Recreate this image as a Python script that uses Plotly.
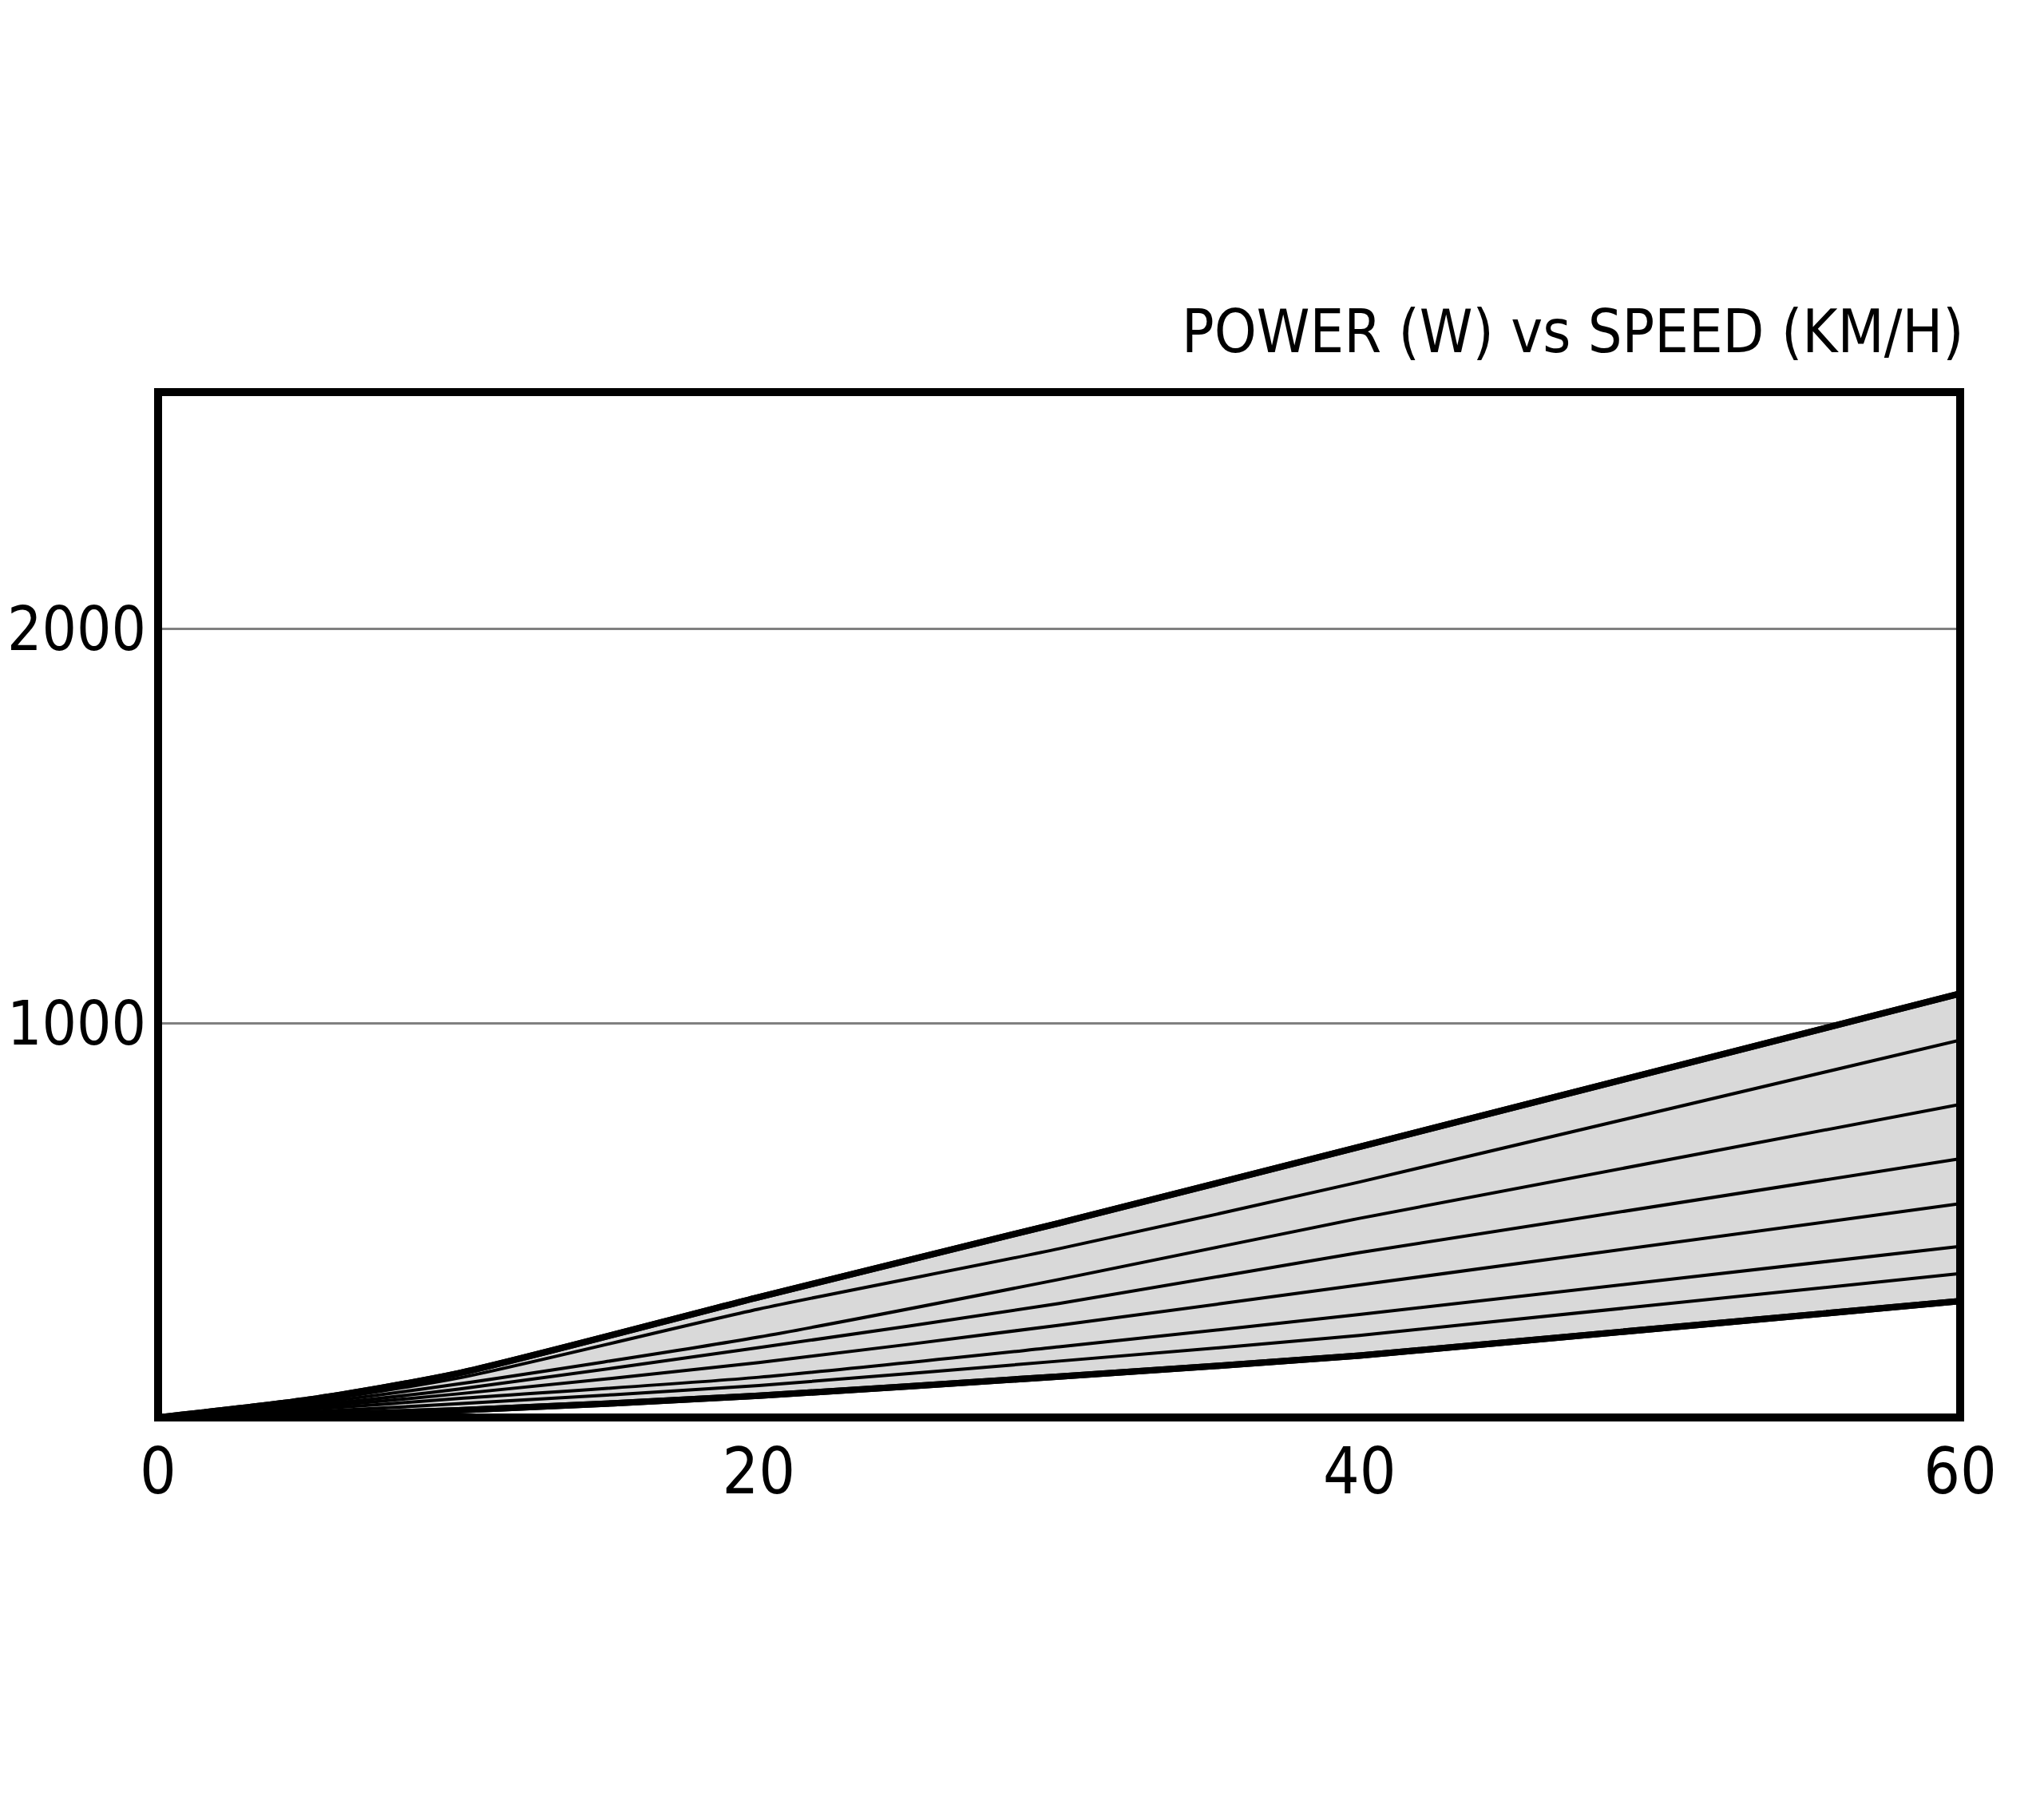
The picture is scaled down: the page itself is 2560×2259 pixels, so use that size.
import plotly.graph_objects as go

# speed in km/h, power in W
speed = [0, 5, 10, 20, 30, 40, 60]
power_max = [0, 45, 112, 305, 493, 686, 1075]
power_2 = [0, 40, 100, 275, 428, 597, 957]
power_3 = [0, 35, 85, 204, 350, 505, 794]
power_4 = [0, 30, 72, 177, 289, 418, 656]
power_5 = [0, 25, 60, 139, 234, 336, 542]
power_6 = [0, 20, 48, 102, 179, 261, 434]
power_7 = [0, 14, 35, 81, 143, 208, 365]
power_min = [0, 7, 18, 55, 104, 157, 295]

x_ticks = [0, 20, 40, 60]
y_ticks = [1000, 2000]
title = "POWER (W) vs SPEED (KM/H)"

FONT = "DejaVu Sans Condensed, Liberation Sans, sans-serif"

fig = go.Figure()

# band: bottom curve, then top curve filled down to it
fig.add_trace(go.Scatter(x=speed, y=power_min, mode="lines",
                         line=dict(color="black", width=8, shape="spline", smoothing=0.7)))
fig.add_trace(go.Scatter(x=speed, y=power_max, mode="lines", fill="tonexty",
                         fillcolor="#d9d9d9",
                         line=dict(color="black", width=8, shape="spline", smoothing=0.7)))

for p in [power_2, power_3, power_4, power_5, power_6, power_7]:
    fig.add_trace(go.Scatter(x=speed, y=p, mode="lines",
                             line=dict(color="black", width=4, shape="spline", smoothing=0.7)))

# redraw the outer curves on top
for p in [power_min, power_max]:
    fig.add_trace(go.Scatter(x=speed, y=p, mode="lines",
                             line=dict(color="black", width=8, shape="spline", smoothing=0.7)))

fig.update_layout(
    width=2560, height=2259,
    paper_bgcolor="white", plot_bgcolor="white",
    showlegend=False,
    margin=dict(l=190, r=113, t=483, b=492),
    font=dict(family=FONT, color="black", size=76),
    xaxis=dict(range=[0, 60], tickvals=x_ticks, showgrid=False, zeroline=False,
               showline=False, ticks="", tickfont=dict(size=80), ticklabelstandoff=14,
               automargin=False),
    yaxis=dict(range=[0, 2600], tickvals=y_ticks, showgrid=True, gridcolor="#808080",
               gridwidth=3, zeroline=False, showline=False, ticks="",
               tickfont=dict(size=76), ticklabelstandoff=14, automargin=False),
    shapes=[dict(type="rect", xref="paper", yref="paper", x0=0, x1=1, y0=0, y1=1,
                 line=dict(color="black", width=10), layer="above")],
    annotations=[dict(text=title, xref="paper", yref="paper", x=1.003, y=1.0,
                      xanchor="right", yanchor="bottom", yshift=30, showarrow=False,
                      font=dict(family=FONT, size=75, color="black"))],
)

fig.write_html("out.html")
